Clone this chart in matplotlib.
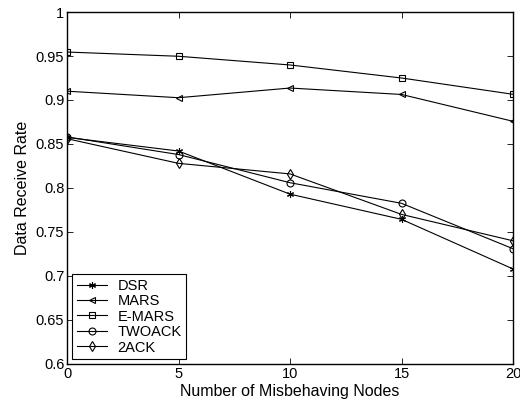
import matplotlib
matplotlib.use("Agg")
import matplotlib.pyplot as plt

nodes = [0, 5, 10, 15, 20]
dsr = [0.8575, 0.842, 0.793, 0.7644, 0.708]
mars = [0.910, 0.9026, 0.9136, 0.9063, 0.8758]
emars = [0.9545, 0.9497, 0.9398, 0.925, 0.9065]
twoack = [0.858, 0.838, 0.806, 0.7826, 0.731]
ack2 = [0.856, 0.828, 0.816, 0.770, 0.740]

plt.rcParams['font.family'] = ['Liberation Sans', 'DejaVu Sans']
plt.rcParams['font.size'] = 10.5

fig = plt.figure(figsize=(5.2, 4.07), dpi=100)
ax = fig.add_axes([0.129, 0.1057, 0.8575, 0.8648])

style = dict(color='black', lw=0.8, markersize=5, markerfacecolor='none', markeredgewidth=0.8)
ax.plot(nodes, dsr, marker=(6, 2, 0), label='DSR', **style)
ax.plot(nodes, mars, marker='<', label='MARS', **style)
ax.plot(nodes, emars, marker='s', label='E-MARS', **style)
ax.plot(nodes, twoack, marker='o', label='TWOACK', **style)
ax.plot(nodes, ack2, marker='d', label='2ACK', **style)

ax.set_xlim(0, 20)
ax.set_ylim(0.6, 1.0)
ax.set_xticks([0, 5, 10, 15, 20])
ax.set_yticks([0.6, 0.65, 0.7, 0.75, 0.8, 0.85, 0.9, 0.95, 1.0])
ax.set_yticklabels(['0.6', '0.65', '0.7', '0.75', '0.8', '0.85', '0.9', '0.95', '1'])
ax.tick_params(direction='in', top=True, right=True, length=4, width=0.6, pad=2)
for s in ax.spines.values():
    s.set_linewidth(1.0)

ax.set_xlabel('Number of Misbehaving Nodes', fontsize=11.5, labelpad=2)
ax.set_ylabel('Data Receive Rate', fontsize=11.5, labelpad=4)

leg = ax.legend(loc='lower left', fancybox=False, edgecolor='black', framealpha=1,
                borderaxespad=0.35, handlelength=2.1, labelspacing=0.1, borderpad=0.3,
                handletextpad=0.7)
leg.get_frame().set_linewidth(0.8)

fig.savefig('out.png', dpi=100)
